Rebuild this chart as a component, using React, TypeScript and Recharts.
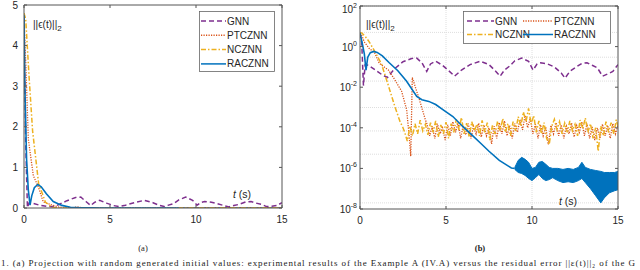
import { ComposedChart, Line, Area, XAxis, YAxis, CartesianGrid } from 'recharts'

// axis ticks
const timeTicks = [0, 5, 10, 15]
const linearTicks = [0, 1, 2, 3, 4, 5]
const logTicks = [1e-8, 1e-6, 1e-4, 1e-2, 1, 100]

// GNN residual ||e(t)||_2
const gnnTime = [0, 0.1, 0.2, 0.3, 0.5, 0.9, 1.3, 1.6, 2.0, 2.5, 3.0, 3.3, 3.6, 3.88, 4.1, 4.4, 4.8, 5.2, 5.5, 5.9, 6.4, 7.0, 7.5, 7.9, 8.15, 8.4, 8.7, 9.0, 9.4, 9.8, 10.06, 10.3, 10.5, 10.9, 11.3, 11.7, 11.92, 12.2, 12.5, 12.9, 13.2, 13.5, 13.8, 14.1, 14.4, 14.7, 15]
const gnnValue = [4.7, 1.6, 0.012, 0.13, 0.12, 0.07, 0.04, 0.03, 0.08, 0.18, 0.26, 0.27, 0.16, 0.06, 0.14, 0.19, 0.12, 0.06, 0.035, 0.07, 0.13, 0.19, 0.13, 0.06, 0.035, 0.07, 0.11, 0.2, 0.27, 0.19, 0.07, 0.14, 0.16, 0.14, 0.1, 0.05, 0.028, 0.06, 0.09, 0.15, 0.16, 0.12, 0.09, 0.035, 0.045, 0.06, 0.13]

// PTCZNN
const ptcTime = [0, 0.1, 0.25, 0.54, 0.85, 1.12, 1.65, 2.0, 2.42, 2.71, 2.8, 2.87, 2.95, 3.04, 3.45, 3.8,
  3.9, 4.05, 4.2, 4.35, 4.5, 4.65, 4.8, 4.95, 5.1, 5.25, 5.4, 5.55, 5.7, 5.85, 6.0, 6.15, 6.3, 6.45, 6.6, 6.75, 6.9, 7.05, 7.2, 7.35, 7.5, 7.65, 7.8, 7.95,
  8.1, 8.25, 8.4, 8.55, 8.7, 8.85, 9.0, 9.15, 9.3, 9.45, 9.6, 9.75, 9.9, 10.05, 10.2, 10.35, 10.5, 10.65, 10.8, 10.95, 11.1, 11.25, 11.4, 11.55, 11.7, 11.85,
  12.0, 12.15, 12.3, 12.45, 12.6, 12.75, 12.9, 13.05, 13.2, 13.35, 13.5, 13.65, 13.8, 13.95, 14.1, 14.25, 14.4, 14.55, 14.7, 14.85, 15.0]
const ptcValue = [4.7, 3.6, 1.7, 0.8, 0.5, 0.15, 0.07, 0.025, 0.0063, 7.9e-4, 1.3e-4, 3e-5, 4e-6, 0.03, 0.0025, 2.5e-4,
  1.5e-4, 4e-5, 1.2e-4, 3e-5, 1.6e-4, 5e-5, 1e-4, 2.5e-5, 1.4e-4, 4e-5, 2e-4, 6e-5, 1.8e-4, 3e-5, 1.3e-4, 4.5e-5, 1.6e-4, 3e-5, 1.2e-4, 5e-5, 1.7e-4, 3.5e-5, 1.4e-4, 4e-5, 1e-4, 1.6e-5, 1.2e-4, 3e-5,
  1.8e-4, 5e-5, 2.2e-4, 4e-5, 1.3e-4, 3e-5, 1.6e-4, 6e-5, 2.5e-4, 8e-5, 4e-4, 1e-4, 3e-4, 5e-5, 1.5e-4, 3e-5, 1.4e-4, 4e-5, 1.1e-4, 1.5e-5, 1.3e-4, 5e-5, 1.8e-4, 4e-5, 1.4e-4, 3e-5,
  1.2e-4, 5e-5, 1.7e-4, 3.5e-5, 1.3e-4, 6e-5, 2e-4, 4e-5, 1.6e-4, 3e-5, 1.1e-4, 2.5e-5, 1e-4, 3e-5, 1.5e-4, 4e-5, 1.3e-4, 3e-5, 1.6e-4, 5e-5, 1.4e-4]

// NCZNN
const nczTime = [0, 0.1, 0.3, 0.5, 0.85, 1.25, 1.65, 2.03, 2.33, 2.5,
  2.6, 2.75, 2.9, 3.05, 3.2, 3.35, 3.5, 3.65, 3.8, 3.95, 4.1, 4.25, 4.4, 4.55, 4.7, 4.85, 5.0, 5.15, 5.3, 5.45, 5.6, 5.75, 5.9, 6.05, 6.2, 6.35, 6.5, 6.65, 6.8, 6.95,
  7.1, 7.25, 7.4, 7.55, 7.7, 7.85, 8.0, 8.15, 8.3, 8.45, 8.6, 8.75, 8.9, 9.05, 9.2, 9.35, 9.5, 9.65, 9.8, 9.95, 10.1, 10.25, 10.4, 10.55, 10.7, 10.85, 11.0, 11.15,
  11.3, 11.45, 11.6, 11.75, 11.9, 12.05, 12.2, 12.35, 12.5, 12.65, 12.8, 12.95, 13.1, 13.25, 13.4, 13.55, 13.7, 13.85, 14.0, 14.15, 14.3, 14.45, 14.6, 14.75, 14.9, 15.0]
const nczValue = [4.8, 4.65, 3.2, 1.9, 0.6, 0.14, 0.012, 0.0011, 2e-4, 1e-4,
  6e-5, 2.2e-5, 1.2e-4, 4e-5, 1.6e-4, 5e-5, 2.4e-4, 7e-5, 1.5e-4, 4.5e-5, 1.8e-4, 6e-5, 2.2e-4, 3.5e-5, 1.4e-4, 5e-5, 1.9e-4, 3e-5, 1.6e-4, 6e-5, 2.6e-4, 8e-5, 3.2e-4, 5e-5, 1.7e-4, 3.5e-5, 2e-4, 7e-5, 1.5e-4, 4e-5,
  2.3e-4, 6e-5, 1.8e-4, 2.5e-5, 1.3e-4, 5e-5, 2.1e-4, 7e-5, 2.8e-4, 6e-5, 1.6e-4, 4e-5, 2e-4, 7e-5, 3.5e-4, 1.2e-4, 6e-4, 2e-4, 9e-4, 1.5e-4, 4e-4, 6e-5, 2.2e-4, 5e-5, 1.8e-4, 3e-5, 1.5e-5, 1.2e-4,
  2.6e-4, 8e-5, 2e-4, 5e-5, 1.7e-4, 6e-5, 2.2e-4, 7e-5, 1.5e-4, 4e-5, 2.4e-4, 9e-5, 3e-4, 6e-5, 1.6e-4, 3e-5, 1e-4, 7e-6, 1.2e-4, 4e-5, 2e-4, 6e-5, 1.8e-4, 5e-5, 2.5e-4, 1.2e-4]

// RACZNN: smooth part, then a dense oscillating band (low / high envelope)
const racTime = [0, 0.05, 0.15, 0.25, 0.35, 0.45, 0.6, 0.8, 1.0, 1.3, 1.7, 2.2, 2.7, 3.3, 3.6, 4.0, 4.4, 4.9, 5.4, 6.0, 6.5, 7.0, 7.5, 8.1, 8.8, 9.0]
const racValue = [4.75, 3.0, 1.2, 0.45, 0.07, 0.3, 0.5, 0.58, 0.52, 0.35, 0.16, 0.065, 0.02, 0.0035, 0.0024, 0.002, 0.0014, 7e-4, 3.6e-4, 1.1e-4, 4.5e-5, 1.78e-5, 7e-6, 2.5e-6, 1.05e-6, 1e-6]
const bandTime = [9.0, 9.2, 9.4, 9.6, 9.8, 10.0, 10.2, 10.4, 10.6, 10.8, 11.0, 11.2, 11.5, 11.8, 12.1, 12.4, 12.7, 12.9, 13.1, 13.4, 13.7, 14.0, 14.2, 14.5, 14.8, 15.0]
const bandLow = [8.9e-7, 6.3e-7, 5.6e-7, 4.5e-7, 3.2e-7, 2.5e-7, 3.5e-7, 5e-7, 3.2e-7, 2.5e-7, 2.8e-7, 3.5e-7, 2.5e-7, 2e-7, 2.2e-7, 2e-7, 2.5e-7, 3.2e-7, 2e-7, 1e-7, 4.5e-8, 2e-8, 3.5e-8, 6.3e-8, 7.9e-8, 8.9e-8]
const bandHigh = [1.12e-6, 2.5e-6, 3.5e-6, 2.8e-6, 2e-6, 1e-6, 1.12e-6, 2e-6, 2.2e-6, 1.6e-6, 1.12e-6, 1e-6, 1e-6, 8.9e-7, 1e-6, 8.9e-7, 1.12e-6, 2e-6, 1.12e-6, 8.9e-7, 7.9e-7, 7.1e-7, 6.3e-7, 6.3e-7, 6.3e-7, 7.1e-7]

const COLORS = { gnn: '#7E2F8E', ptc: '#D95319', ncz: '#EDB120', rac: '#0072BD' }
const DASH = { gnn: '5 3', ptc: '1.2 1.3', ncz: '5 2 1.5 2', rac: undefined }
const axisColor = '#555'
const sans = 'Liberation Sans, Arial, DejaVu Sans, sans-serif'
const tickFont = { fontSize: 10, fontFamily: sans, fill: '#262626' }

const toPoints = (time: number[], value: number[]) => time.map((t, i) => ({ t, v: value[i] }))
const gnnData = toPoints(gnnTime, gnnValue)
const ptcData = toPoints(ptcTime, ptcValue)
const nczData = toPoints(nczTime, nczValue)
const racData = toPoints(racTime, racValue)
const bandData = bandTime.map((t, i) => ({ t, range: [bandLow[i], bandHigh[i]] }))

// log panel grid: 1..9 x 10^k
const minorGrid: number[] = []
for (let k = -8; k < 2; k++) for (let m = 1; m < 10; m++) minorGrid.push(m * Math.pow(10, k))
minorGrid.push(100)

function LogTick({ x, y, payload }: any) {
  const exp = Math.round(Math.log10(payload.value))
  return (
    <text x={x} y={y} dy={4} textAnchor="end" {...tickFont}>
      <tspan>10</tspan>
      <tspan dy={-5} fontSize={7}>{exp}</tspan>
    </text>
  )
}

function Panel({ log }: { log: boolean }) {
  const margin = log ? { top: 2, right: 18, bottom: 11, left: 4 } : { top: 1, right: 34, bottom: 12, left: 4 }
  const yProps = log
    ? { scale: 'log' as const, domain: [1e-8, 100], ticks: logTicks }
    : { domain: [0, 5], ticks: linearTicks }
  return (
    <ComposedChart width={320} height={240} margin={margin}>
      {log && (
        <CartesianGrid horizontalValues={minorGrid} verticalValues={[5, 10]} stroke="#dedede" strokeDasharray="1 1" />
      )}
      <XAxis dataKey="t" type="number" domain={[0, 15]} ticks={timeTicks} allowDataOverflow height={20}
        tickSize={-3} tickMargin={11} stroke={axisColor} tick={tickFont} />
      <XAxis xAxisId="top" orientation="top" dataKey="t" type="number" domain={[0, 15]} ticks={timeTicks} allowDataOverflow
        height={4} tickSize={-3} stroke={axisColor} tickFormatter={() => ''} />
      {log ? (
        <YAxis type="number" {...yProps} allowDataOverflow width={36} tickSize={-3} tickMargin={6} stroke={axisColor} tick={<LogTick />} />
      ) : (
        <YAxis type="number" {...yProps} allowDataOverflow width={20} tickSize={-3} tickMargin={9} stroke={axisColor} tick={tickFont} />
      )}
      <YAxis yAxisId="right" orientation="right" type="number" {...yProps} allowDataOverflow width={4}
        tickSize={-3} stroke={axisColor} tickFormatter={() => ''} />
      <Line data={gnnData} dataKey="v" type="linear" stroke={COLORS.gnn} strokeWidth={1.5} strokeDasharray={DASH.gnn} dot={false} isAnimationActive={false} />
      <Line data={ptcData} dataKey="v" type="linear" stroke={COLORS.ptc} strokeWidth={1.3} strokeDasharray={DASH.ptc} dot={false} isAnimationActive={false} />
      <Line data={nczData} dataKey="v" type="linear" stroke={COLORS.ncz} strokeWidth={1.5} strokeDasharray={DASH.ncz} dot={false} isAnimationActive={false} />
      <Line data={racData} dataKey="v" type="linear" stroke={COLORS.rac} strokeWidth={1.6} dot={false} isAnimationActive={false} />
      <Area data={bandData} dataKey="range" type="linear" stroke={COLORS.rac} strokeWidth={1} fill={COLORS.rac} fillOpacity={1} isAnimationActive={false} />
    </ComposedChart>
  )
}

const legendItems = [
  { name: 'GNN', color: COLORS.gnn, dash: DASH.gnn },
  { name: 'PTCZNN', color: COLORS.ptc, dash: DASH.ptc },
  { name: 'NCZNN', color: COLORS.ncz, dash: DASH.ncz },
  { name: 'RACZNN', color: COLORS.rac, dash: DASH.rac },
]

function Sample({ x, y, item, len }: { x: number; y: number; item: (typeof legendItems)[number]; len: number }) {
  return (
    <g>
      <line x1={x} x2={x + len} y1={y} y2={y} stroke={item.color} strokeWidth={1.5} strokeDasharray={item.dash} />
      <text x={x + len + 1} y={y + 3.5} fontSize={10} fontFamily={sans} fill="#262626">{item.name}</text>
    </g>
  )
}

function NormLabel({ x, y }: { x: number; y: number }) {
  return (
    <text x={x} y={y} fontSize={10} fontFamily={sans} fill="#262626">
      ||ϵ(t)||<tspan dy={3} fontSize={8}>2</tspan>
    </text>
  )
}

function TimeLabel({ x, y }: { x: number; y: number }) {
  return (
    <text x={x} y={y} fontSize={10.5} fontFamily={sans} fill="#262626">
      <tspan fontStyle="italic">t</tspan> (s)
    </text>
  )
}

export default function App() {
  return (
    <div style={{ position: 'absolute', left: 0, top: 0, width: 640, height: 270, overflow: 'hidden', background: '#fff' }}>
      <div style={{ position: 'absolute', left: 0, top: 0 }}>
        <Panel log={false} />
      </div>
      <div style={{ position: 'absolute', left: 320, top: 0 }}>
        <Panel log />
      </div>
      <svg width={640} height={270} style={{ position: 'absolute', left: 0, top: 0, pointerEvents: 'none' }}>
        {/* panel (a) legend */}
        <rect x={199.5} y={11.5} width={75} height={60} fill="#fff" stroke="#666" strokeWidth={0.8} />
        {legendItems.map((item, i) => (
          <Sample key={item.name} x={201} y={21 + i * 14.3} item={item} len={25} />
        ))}
        {/* panel (b) legend */}
        <rect x={463.5} y={11.5} width={147} height={32} fill="#fff" stroke="#666" strokeWidth={0.8} />
        <Sample x={467} y={21} item={legendItems[0]} len={27} />
        <Sample x={523} y={21} item={legendItems[1]} len={30} />
        <Sample x={467} y={34.5} item={legendItems[2]} len={27} />
        <Sample x={523} y={34.5} item={legendItems[3]} len={30} />

        <NormLabel x={33} y={28} />
        <NormLabel x={366} y={28} />
        <TimeLabel x={233} y={198} />
        <TimeLabel x={559} y={205} />

        <text x={143} y={251} textAnchor="middle" fontSize={8.5} fontFamily="Liberation Serif, serif" fill="#222">(a)</text>
        <text x={480} y={251} textAnchor="middle" fontSize={8.5} fontWeight="bold" fontFamily="Liberation Serif, serif" fill="#222">(b)</text>
        <text x={1} y={266} fontSize={9} fontFamily="Liberation Serif, serif" fill="#222" textLength={634} lengthAdjust="spacing">
          1.  (a) Projection with random generated initial values: experimental results of the Example A (IV.A) versus the residual error ||ε(t)||₂ of the G
        </text>
      </svg>
    </div>
  )
}
